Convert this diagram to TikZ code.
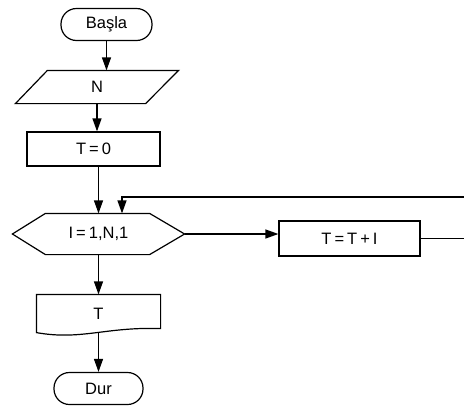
\documentclass[tikz,border=0pt]{standalone}
\usepackage{fontspec}
\setmainfont{Liberation Sans}
\usetikzlibrary{arrows.meta,calc}
\newcommand{\op}[1]{\kern3pt#1\kern3pt}
\begin{document}
\begin{tikzpicture}[x=1pt,y=-1pt,
  line width=1.2pt,
  every node/.style={font=\fontsize{16.5}{18}\selectfont, inner sep=0pt},
  flow/.style={-{Triangle[length=13pt,width=9pt]}},
  terminal/.style={draw, rounded corners=15.5pt, minimum width=#1, minimum height=32pt},
  process/.style={draw, minimum width=#1, minimum height=34pt},
  frame/.style={minimum width=#1}]
\useasboundingbox (0,0) rectangle (464,405);
\clip (0,0) rectangle (464,405);

% start / stop terminals
\node[terminal=91pt] (start) at (106.5,24.5) {Başla};
\node[terminal=89pt] (stop) at (98.5,388.5) {Dur};

% input N (parallelogram)
\node[frame=162pt, minimum height=32pt] (in) at (97,87) {\raisebox{-4pt}{N}};
\draw ($(in.north west)+(32,0)$) -- (in.north east) -- ($(in.south east)-(33,0)$)
      -- (in.south west) -- cycle;

% initialisation
\node[process=133pt] (init) at (93.5,149) {T\op{=}0};

% loop header (hexagon)
\node[frame=171pt, minimum height=40pt] (loop) at (98.5,234) {I\op{=}1,N,1};
\draw (loop.west) -- ($(loop.north west)+(33,0)$) -- ($(loop.north east)-(35,0)$)
      -- (loop.east) -- ($(loop.south east)-(35,0)$) -- ($(loop.south west)+(33,0)$) -- cycle;

% loop body
\node[process=141pt, minimum height=35pt] (body) at (349.5,238.5) {T\op{=}T\op{+}I};

% output T (document)
\node[frame=123pt, minimum height=37pt] (out) at (98.5,313.5) {\raisebox{-5pt}{T}};
\draw (out.south west) .. controls +(45,8) and +(-55,-2) .. ([yshift=4pt]out.south east)
      -- (out.north east) -- (out.north west) -- cycle;

% return path of the loop
\coordinate (ret) at (122,197);
\coordinate (rim) at (474,0);

% connectors
\draw[flow] (start.south) -- (start.south |- in.north);
\draw[flow] (in.south) -- (in.south |- init.north);
\draw[flow] (init.south -| loop.north) -- (loop.north);
\draw[flow] (loop.east) -- (loop.east -| body.west);
\draw[flow] (body.east) -- (body.east -| rim) |- (ret) -- (ret |- loop.north);
\draw[flow] (loop.south) -- (loop.south |- out.north);
\draw[flow] (out.south) -- (out.south |- stop.north);
\end{tikzpicture}
\end{document}
